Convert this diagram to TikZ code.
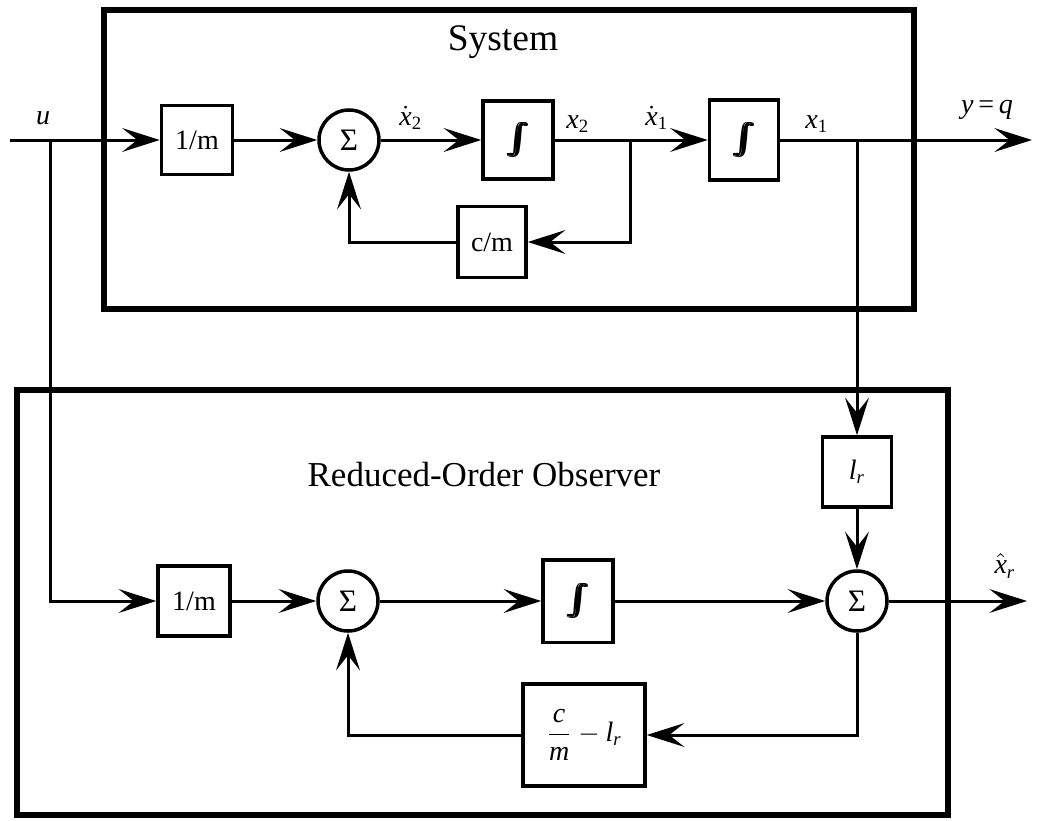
\documentclass[tikz,border=0pt]{standalone}
\usepackage{fontspec}
\setmainfont{Liberation Serif}
\usetikzlibrary{arrows.meta}
\newcommand{\vx}{\mbox{\itshape x}}
\newcommand{\sbs}[1]{_{\mbox{\fontsize{7.5}{8}\selectfont #1}}}
\newcommand{\bint}{\scalebox{1.25}{\rlap{$\int$}\hspace{0.35pt}\rlap{$\int$}\hspace{0.35pt}\rlap{$\int$}\hspace{0.35pt}$\int$}}
\tikzset{
  blk/.style={draw, line width=1.4pt, inner sep=0pt, font=\fontsize{11.2}{13}\selectfont},
  sumc/.style={draw, circle, line width=1.4pt, minimum size=24pt, inner sep=0pt, font=\fontsize{12.5}{14}\selectfont},
  conn/.style={line width=1.2pt},
  arr/.style={conn, -{Stealth[length=15pt,width=9.5pt,inset=6pt]}},
  frame/.style={draw, line width=2.4pt},
  lbl/.style={font=\fontsize{11.2}{13}\selectfont, inner sep=0pt},
  ttl/.style={font=\fontsize{14}{16}\selectfont, inner sep=0pt},
  intg/.style={font=\fontsize{12}{14}\selectfont}
}
\begin{document}
\begin{tikzpicture}[x=0.4pt,y=-0.4pt]
\useasboundingbox (0,0) rectangle (1039,820);
% frames
\draw[frame] (104,10) rectangle (914,309);
\draw[frame] (17,390) rectangle (948,815);
\node[ttl, font=\fontsize{15}{17}\selectfont] (tsys) at (503,42) {System};
\node[ttl] (tobs) at (484,475) {Reduced-Order Observer};
% system row
\node[blk, minimum width=28.4pt, minimum height=27.6pt] (m1) at (197,140) {1/m};
\node[sumc] (s1) at (349,140) {Σ};
\node[blk, intg, minimum width=28pt, minimum height=31.2pt] (i1) at (518,140) {\bint};
\node[blk, intg, minimum width=27.6pt, minimum height=32pt] (i2) at (744,140) {\bint};
\node[blk, minimum width=27.2pt, minimum height=28.4pt] (cm) at (492,242) {c/m};
\coordinate (uin) at (10,140);
\coordinate (ju) at (50,140);
\coordinate (j1) at (630,140);
\coordinate (j2) at (857,140);
\coordinate (yout) at (1032,140);
% observer row
\node[blk, minimum width=28.8pt, minimum height=28pt] (m2) at (194,601) {1/m};
\node[sumc] (s2) at (348,601) {Σ};
\node[blk, intg, minimum width=28pt, minimum height=33pt] (i3) at (578,601) {\bint};
\node[sumc] (s3) at (857,601) {Σ};
\node[blk, minimum width=27.6pt, minimum height=28pt] (lr) at (857,472) {$\mbox{\itshape l}\sbs{\itshape r}$};
\node[blk, minimum width=48.8pt, minimum height=40.8pt] (fb) at (584,735) {$\displaystyle\frac{\mbox{\itshape c}}{\mbox{\itshape m}}-\mbox{\itshape l}\sbs{\itshape r}$};
\coordinate (xout) at (1027,601);
% labels
\node[lbl] (lu) at (43,118) {\itshape u};
\node[lbl] (lx2d) at (411,118) {$\dot{\vx}\sbs{2}$};
\node[lbl] (lx2) at (578,124) {$\vx\sbs{2}$};
\node[lbl] (lx1d) at (657,118) {$\dot{\vx}\sbs{1}$};
\node[lbl] (lx1) at (817,124) {$\vx\sbs{1}$};
\node[lbl] (lyq) at (987,110) {\itshape y\,\upshape =\,\itshape q};
\node[lbl] (lxh) at (1005,566) {$\hat{\vx}\sbs{\itshape r}$};
% connectors system
\draw[arr] (uin) -- (m1);
\draw[arr] (m1) -- (s1);
\draw[arr] (s1) -- (i1);
\draw[arr] (i1) -- (i2);
\draw[arr] (i2) -- (yout);
\draw[arr] (j1) |- (cm);
\draw[arr] (cm) -| (s1);
% connectors observer
\draw[arr] (ju) |- (m2);
\draw[arr] (m2) -- (s2);
\draw[arr] (s2) -- (i3);
\draw[arr] (i3) -- (s3);
\draw[arr] (j2) -- (lr);
\draw[arr] (lr) -- (s3);
\draw[arr] (s3) -- (xout);
\draw[arr] (s3) |- (fb);
\draw[arr] (fb) -| (s2);
\end{tikzpicture}
\end{document}
